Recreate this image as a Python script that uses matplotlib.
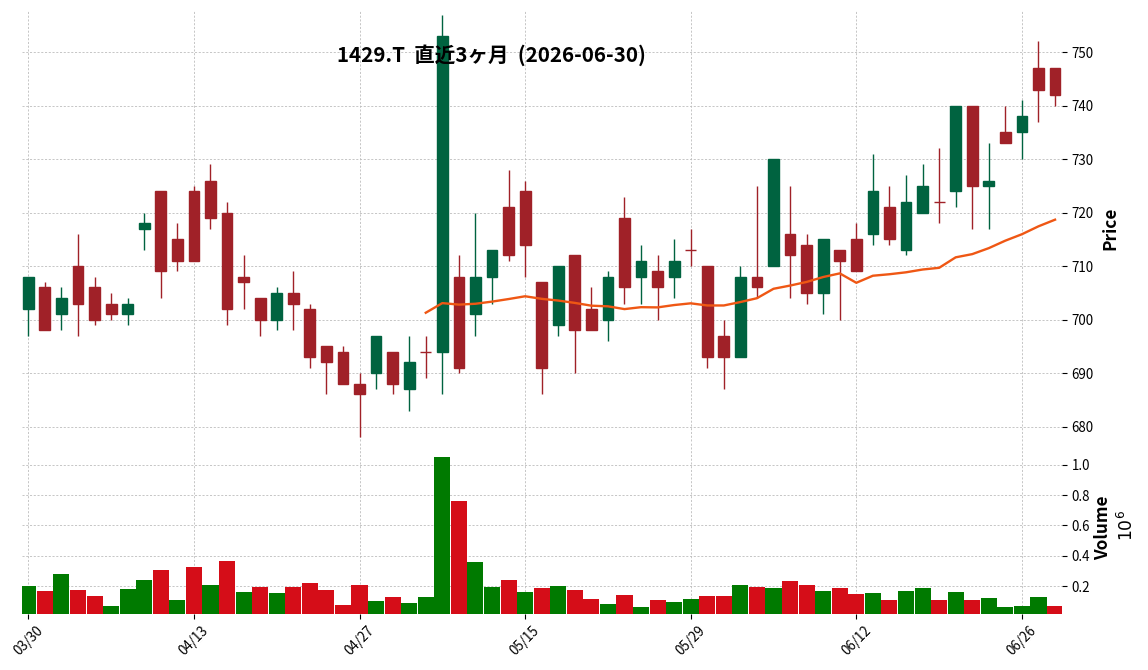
import numpy as np
import pandas as pd
import matplotlib
matplotlib.use('Agg')
import matplotlib.pyplot as plt
from matplotlib.ticker import FuncFormatter

plt.rcParams['font.family'] = ['Noto Sans CJK JP', 'DejaVu Sans']

ticker = '1429.T'
# Tokyo trading days, Golden Week holidays removed
holidays = ['2026-04-29', '2026-05-04', '2026-05-05', '2026-05-06']
dates = pd.bdate_range('2026-03-30', '2026-06-30').drop(pd.to_datetime(holidays))

opens = [702, 706, 701, 710, 706, 703, 701, 717, 724, 715,
         724, 726, 720, 708, 704, 700, 705, 702, 695, 694,
         688, 690, 694, 687, 694, 694, 708, 701, 708, 721,
         724, 707, 699, 712, 702, 700, 719, 708, 709, 708,
         713, 710, 697, 693, 708, 710, 716, 714, 705, 713,
         715, 716, 721, 713, 720, 722, 724, 740, 725, 735,
         735, 747, 747]
highs = [708, 707, 706, 716, 708, 705, 704, 720, 724, 718,
         725, 729, 722, 712, 704, 706, 709, 703, 695, 695,
         690, 697, 694, 697, 697, 757, 712, 720, 713, 728,
         726, 707, 710, 712, 706, 709, 723, 714, 712, 715,
         717, 710, 700, 710, 725, 730, 725, 716, 715, 713,
         718, 731, 725, 727, 729, 732, 740, 740, 733, 740,
         741, 752, 747]
lows = [697, 698, 698, 697, 699, 700, 699, 713, 704, 709,
        711, 717, 699, 702, 697, 698, 698, 691, 686, 688,
        678, 687, 686, 683, 689, 686, 690, 697, 703, 711,
        708, 686, 697, 690, 698, 696, 703, 703, 700, 704,
        710, 691, 687, 693, 704, 710, 704, 703, 701, 700,
        709, 714, 714, 712, 720, 718, 721, 717, 717, 733,
        730, 737, 740]
closes = [708, 698, 704, 703, 700, 701, 703, 718, 709, 711,
          711, 719, 702, 707, 700, 705, 703, 693, 692, 688,
          686, 697, 688, 692, 694, 753, 691, 708, 713, 712,
          714, 691, 710, 698, 698, 708, 706, 711, 706, 711,
          713, 693, 693, 708, 706, 730, 712, 705, 715, 711,
          709, 724, 715, 722, 725, 722, 740, 725, 726, 733,
          738, 743, 742]
volumes = [202000, 169000, 281000, 176000, 137000, 71000, 183000, 242000, 307000, 110000,
           327000, 209000, 366000, 163000, 196000, 156000, 196000, 222000, 176000, 78000,
           209000, 104000, 130000, 91000, 130000, 1050000, 760000, 360000, 196000, 242000,
           163000, 189000, 202000, 177000, 120000, 87000, 146000, 61000, 113000, 100000,
           120000, 139000, 139000, 211000, 198000, 191000, 237000, 211000, 172000, 191000,
           152000, 159000, 113000, 172000, 191000, 107000, 165000, 107000, 126000, 61000,
           74000, 133000, 74000]
mav = 25

o = np.array(opens, float)
h = np.array(highs, float)
l = np.array(lows, float)
c = np.array(closes, float)
v = np.array(volumes, float)
x = np.arange(len(c))

up = c > o
ccol = np.where(up, '#006340', '#a02128')
prev = np.concatenate([[o[0]], c[:-1]])
vcol = np.where(c > prev, '#007a00', '#d50d18')
ma = pd.Series(c).rolling(mav).mean()

fig = plt.figure(figsize=(11.48, 6.70), dpi=100)
ax1 = fig.add_axes([0.0189, 0.3418, 0.9059, 0.6418])
ax2 = fig.add_axes([0.0189, 0.0836, 0.9059, 0.2582], sharex=ax1)

ax1.vlines(x, l, h, colors=ccol, lw=1.0, zorder=2)
ax1.bar(x, np.abs(c - o), bottom=np.minimum(o, c), width=0.65,
        color=ccol, edgecolor=ccol, lw=1.0, zorder=3)
ax1.plot(x, ma, color='#ef5714', lw=1.7, zorder=4)

ax2.bar(x, v, width=0.97, color=vcol, lw=0, zorder=2)

ax1.set_xlim(-0.4, len(c) - 0.6)
ax1.set_ylim(677.3, 757.7)
ax2.set_ylim(0.3 * v.min(), 1.1 * v.max())

for ax in (ax1, ax2):
    for s in ax.spines.values():
        s.set_visible(False)
    ax.set_axisbelow(True)
    ax.grid(True, ls=(0, (2.5, 2)), color='#bdbdbd', lw=0.6)
    ax.yaxis.tick_right()
    ax.tick_params(labelsize=9.6)

ax1.tick_params(axis='x', bottom=False, labelbottom=False)
ax2.set_xticks(x[::10])
ax2.set_xticklabels(dates[::10].strftime('%m/%d'))
ax2.tick_params(axis='x', labelrotation=45)
ax2.yaxis.set_major_formatter(FuncFormatter(lambda val, pos: '%.1f' % (val / 1e6)))

fig.text(1110 / 1148, 1 - 228 / 670, 'Price', rotation=90, ha='center', va='center',
         fontsize=12.4, fontweight='bold')
fig.text(1103 / 1148, 1 - 528 / 670, 'Volume', rotation=90, ha='center', va='center',
         fontsize=12.4, fontweight='bold')
fig.text(1127 / 1148, 1 - 525 / 670, '$10^{6}$', rotation=90, ha='center', va='center',
         fontsize=12.4)

title = f"{ticker}  直近3ヶ月  ({dates[-1].strftime('%Y-%m-%d')})"
fig.text(491 / 1148, 1 - 55 / 670, title, ha='center', va='center',
         fontsize=14.8, fontweight='bold')

fig.savefig('out.png', dpi=100)
